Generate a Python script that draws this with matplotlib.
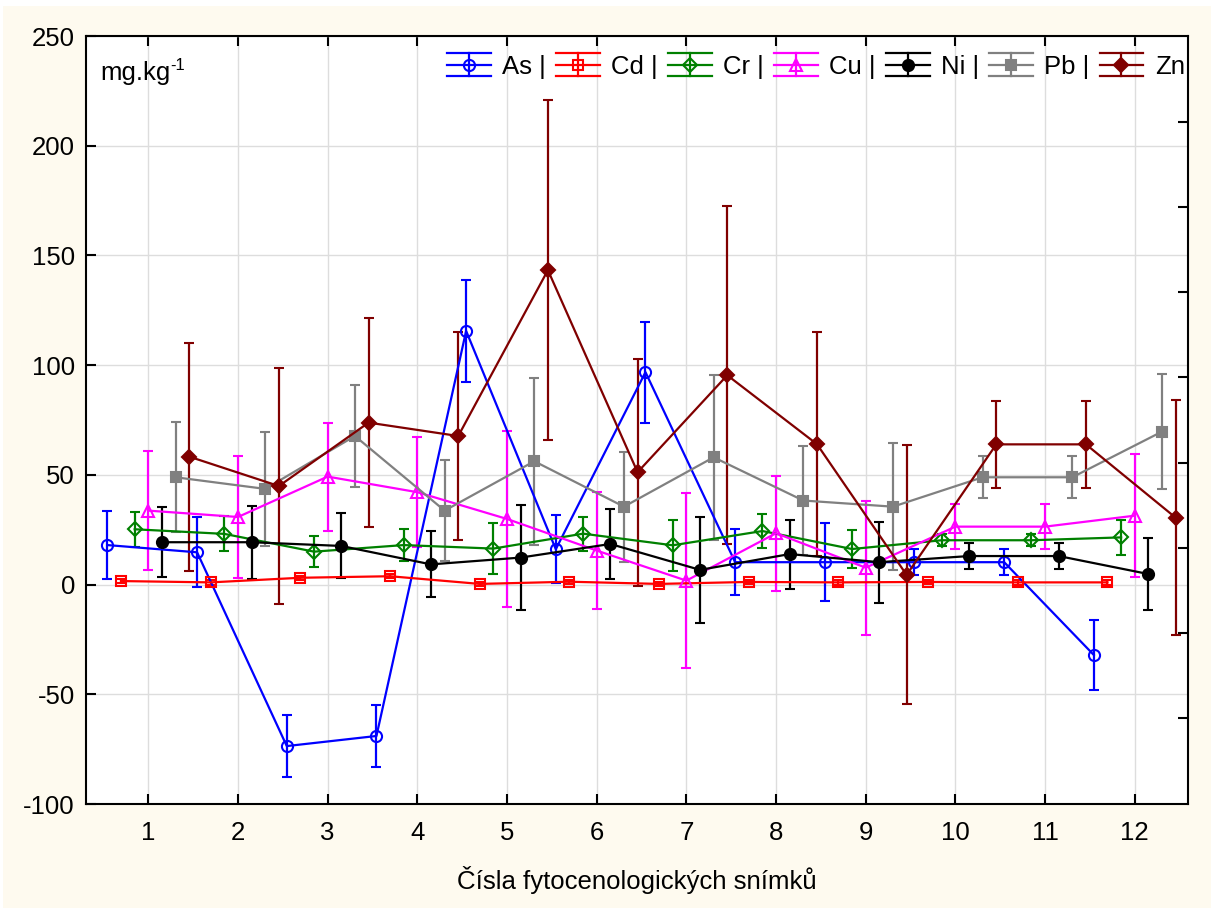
import matplotlib
matplotlib.use("Agg")
import matplotlib.pyplot as plt
import numpy as np
from matplotlib.lines import Line2D
from matplotlib.patches import Rectangle
from matplotlib.legend_handler import HandlerBase

plt.rcParams['font.family'] = ['Liberation Sans', 'DejaVu Sans']
plt.rcParams['mathtext.default'] = 'regular'

groups = list(range(1, 13))
elements = ["As", "Cd", "Cr", "Cu", "Ni", "Pb", "Zn"]
legend_labels = ["As |", "Cd |", "Cr |", "Cu |", "Ni |", "Pb |", "Zn"]

As = [18.0, 14.7, -73.6, -69.0, 115.6, 16.1, 96.8, 10.2, 10.2, 10.2, 10.2, -32.1]
As_err = [15.4, 16.0, 14.3, 14.3, 23.3, 15.5, 23.0, 15.0, 17.7, 6.0, 6.0, 16.0]
Cd = [1.6, 1.0, 3.1, 3.8, 0.3, 1.3, 0.3, 1.2, 1.0, 1.2, 1.0, 1.0]
Cd_err = [1.0, 1.0, 1.0, 1.0, 1.0, 1.0, 1.0, 1.0, 1.0, 1.0, 1.0, 1.0]
Cr = [25.2, 23.1, 15.0, 18.0, 16.4, 23.2, 17.9, 24.4, 16.2, 20.2, 20.2, 21.5]
Cr_err = [8.0, 8.0, 7.2, 7.3, 11.8, 7.8, 11.7, 7.6, 8.7, 2.8, 2.8, 8.1]
Cu = [33.7, 30.8, 49.2, 42.1, 29.9, 15.5, 1.8, 23.4, 7.7, 26.4, 26.4, 31.4]
Cu_err = [27.0, 28.0, 24.6, 25.0, 40.0, 26.8, 40.0, 26.3, 30.5, 10.3, 10.3, 27.9]
Ni = [19.3, 19.3, 17.6, 9.2, 12.3, 18.5, 6.7, 13.9, 10.2, 13.0, 13.0, 4.8]
Ni_err = [16.0, 16.6, 14.8, 15.0, 24.0, 16.0, 24.0, 15.7, 18.5, 5.9, 5.9, 16.5]
Pb = [48.9, 43.6, 67.7, 33.7, 56.2, 35.5, 58.0, 38.3, 35.5, 48.9, 48.9, 69.7]
Pb_err = [25.0, 26.0, 23.2, 23.0, 38.0, 25.0, 37.7, 24.8, 28.8, 9.5, 9.5, 26.2]
Zn = [58.3, 44.9, 73.8, 67.7, 143.3, 51.2, 95.4, 64.0, 4.4, 63.9, 63.9, 30.5]
Zn_err = [52.0, 53.6, 47.5, 47.4, 77.5, 51.7, 77.0, 51.0, 59.0, 19.9, 19.9, 53.5]

yticks = [-100, -50, 0, 50, 100, 150, 200, 250]
right_ticks = [-60.8, -22.1, 16.7, 55.4, 94.6, 133.4, 172.1, 210.8]

values = [As, Cd, Cr, Cu, Ni, Pb, Zn]
errors = [As_err, Cd_err, Cr_err, Cu_err, Ni_err, Pb_err, Zn_err]
colors = ["#0000FF", "#FF0000", "#008000", "#FF00FF", "#000000", "#808080", "#800000"]
markers = ["o", "s", "D", "^", "o", "s", "D"]
filled = [False, False, False, False, True, True, True]
msizes = [8.0, 7.5, 7.0, 8.0, 8.0, 7.5, 7.0]
offsets = [-0.456, -0.304, -0.152, 0.0, 0.152, 0.304, 0.456]

FS = 18.5

fig = plt.figure(figsize=(12.2, 9.08), dpi=100, facecolor="white")
cream = "#FEFAEF"
fig.patches.append(Rectangle((3/1220, 0), 1208/1220, 902/908, transform=fig.transFigure,
                             facecolor=cream, edgecolor="none", zorder=-10))

ax = fig.add_axes([86/1220, 1 - 804/908, (1188-86)/1220, (804-36)/908])
ax.set_facecolor("white")

x = np.array(groups, dtype=float)
handles = []
for vals, errs, c, m, f, ms, off in zip(values, errors, colors, markers, filled, msizes, offsets):
    mfc = c if f else "none"
    ax.errorbar(x + off, vals, yerr=errs, color=c, ecolor=c, elinewidth=1.6, capsize=3.6,
                capthick=1.6, lw=1.6, marker=m, ms=ms, mfc=mfc, mec=c, mew=1.5, zorder=3)
    handles.append(Line2D([], [], color=c, marker=m, mfc=mfc, mec=c, ms=ms))


class ErrLegendHandler(HandlerBase):
    def create_artists(self, legend, orig_handle, xdescent, ydescent, width, height, fontsize, trans):
        c = orig_handle.get_color()
        x0 = -xdescent
        x1 = x0 + width
        yc = -ydescent + height / 2
        h = height / 2
        arts = []
        for yy in (yc - h, yc, yc + h):
            arts.append(Line2D([x0, x1], [yy, yy], color=c, lw=1.6))
        xm = (x0 + x1) / 2
        arts.append(Line2D([xm, xm], [yc - h, yc + h], color=c, lw=1.6))
        arts.append(Line2D([xm], [yc], marker=orig_handle.get_marker(),
                           mfc=orig_handle.get_markerfacecolor(), mec=c,
                           ms=orig_handle.get_markersize(), mew=1.5, ls="none"))
        for a in arts:
            a.set_transform(trans)
        return arts


leg = ax.legend(handles, legend_labels, handler_map={Line2D: ErrLegendHandler()},
                loc="center right", bbox_to_anchor=(1185/1220, 1 - 66/908),
                bbox_transform=fig.transFigure, ncol=7, frameon=False, fontsize=FS,
                handlelength=1.71, handleheight=1.0, handletextpad=0.45,
                columnspacing=0.38, borderpad=0, borderaxespad=0)

ax.set_xlim(0.305, 12.594)
ax.set_ylim(-100, 250)
ax.set_xticks(groups)
ax.set_xticklabels([str(g) for g in groups])
ax.set_yticks(yticks)
ax.set_yticklabels([str(t) for t in yticks])
ax.grid(True, color="#DDDDDD", lw=1.0, zorder=0)
ax.set_axisbelow(True)
ax.tick_params(axis="both", direction="in", length=7, width=1.5, labelsize=FS, colors="black")
ax.tick_params(axis="x", top=True, bottom=True, pad=12)
ax.tick_params(axis="y", left=True, right=False, pad=8)
for s in ax.spines.values():
    s.set_linewidth(1.5)
    s.set_color("black")

ax2 = ax.twinx()
ax2.set_ylim(-100, 250)
ax2.set_yticks(right_ticks)
ax2.set_yticklabels([])
ax2.tick_params(axis="y", direction="in", length=7, width=1.5, right=True)
for s in ax2.spines.values():
    s.set_visible(False)

ax.set_xlabel("Čísla fytocenologických snímků", fontsize=FS, labelpad=15)
fig.text(100/1220, 1 - 80/908, "mg.kg", fontsize=FS, va="baseline", ha="left")
fig.text(170/1220, 1 - 70/908, "-1", fontsize=12, va="baseline", ha="left")

fig.savefig("out.png", dpi=100, facecolor="white")
